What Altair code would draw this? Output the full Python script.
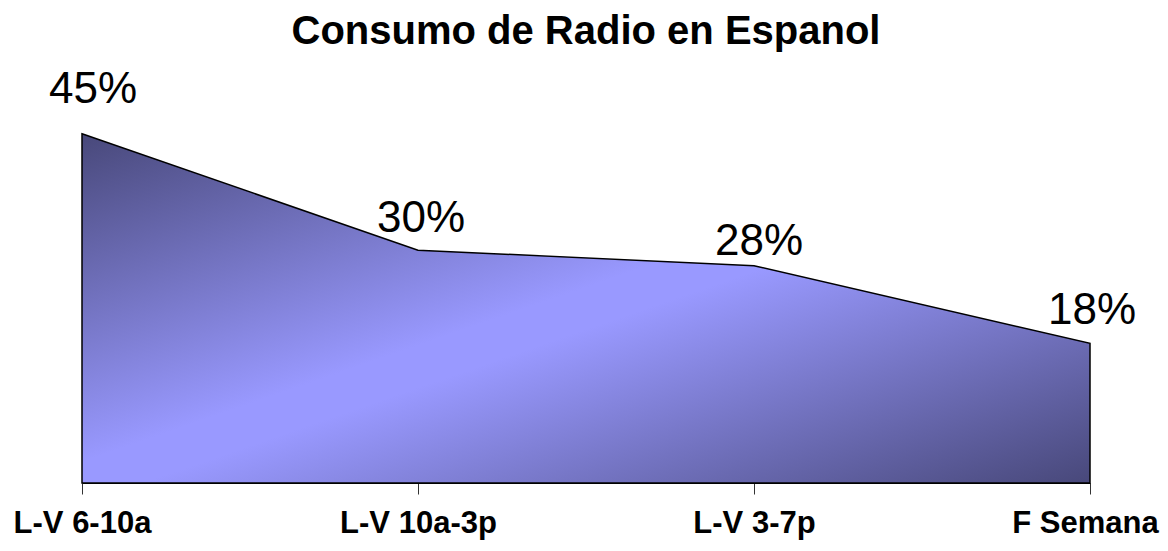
import altair as alt
import pandas as pd

categories = ["L-V 6-10a", "L-V 10a-3p", "L-V 3-7p", "F Semana"]
values = [45, 30, 28, 18]
labels = ["45%", "30%", "28%", "18%"]

df = pd.DataFrame({"cat": categories, "val": values, "lab": labels})

FONT = "Liberation Sans"

x_enc = alt.X("cat:N", sort=categories, scale=alt.Scale(type="point", padding=0),
              axis=alt.Axis(title=None, labelFont=FONT, labelFontSize=31, labelFontWeight="bold",
                            labelColor="black", labelAngle=0, labelPadding=14, tickSize=11,
                            labelOffset=alt.ExprRef("datum.value == 'F Semana' ? -5 : 0"),
                            tickColor="#333333", domainColor="black", domainWidth=1, grid=False))
y_enc = alt.Y("val:Q", scale=alt.Scale(domain=[0, 50], nice=False), axis=None)

gradient = alt.Gradient(
    gradient="linear", x1=0, y1=0, x2=1, y2=1,
    stops=[alt.GradientStop(offset=0, color="#48487a"),
           alt.GradientStop(offset=0.47, color="#9999ff"),
           alt.GradientStop(offset=0.53, color="#9999ff"),
           alt.GradientStop(offset=1, color="#48487a")])

area = alt.Chart(df).mark_area(color=gradient, stroke="black", strokeWidth=1.5,
                               line=False, opacity=1).encode(x=x_enc, y=y_enc)

# label offsets (style): dx, dy per label
offsets = {"45%": (11, -31), "30%": (3, -18), "28%": (5, -11), "18%": (2, -19)}

layers = [area]
for lab in labels:
    dx, dy = offsets[lab]
    layers.append(
        alt.Chart(df).transform_filter(alt.datum.lab == lab)
        .mark_text(font=FONT, fontSize=44, color="black", dx=dx, dy=dy,
                   align="center", baseline="alphabetic")
        .encode(x=x_enc, y=y_enc, text="lab:N")
    )

chart = alt.layer(*layers).properties(
    width=1008, height=388,
    title=alt.TitleParams("Consumo de Radio en Espanol", font=FONT, fontSize=40,
                          fontWeight="bold", color="black", anchor="middle", offset=16),
    autosize=alt.AutoSizeParams(type="none"),
    padding={"left": 74, "top": 87, "right": 70, "bottom": 60},
).configure_view(stroke=None)

chart.save("out.html", embed_options={"renderer": "svg", "actions": False})
